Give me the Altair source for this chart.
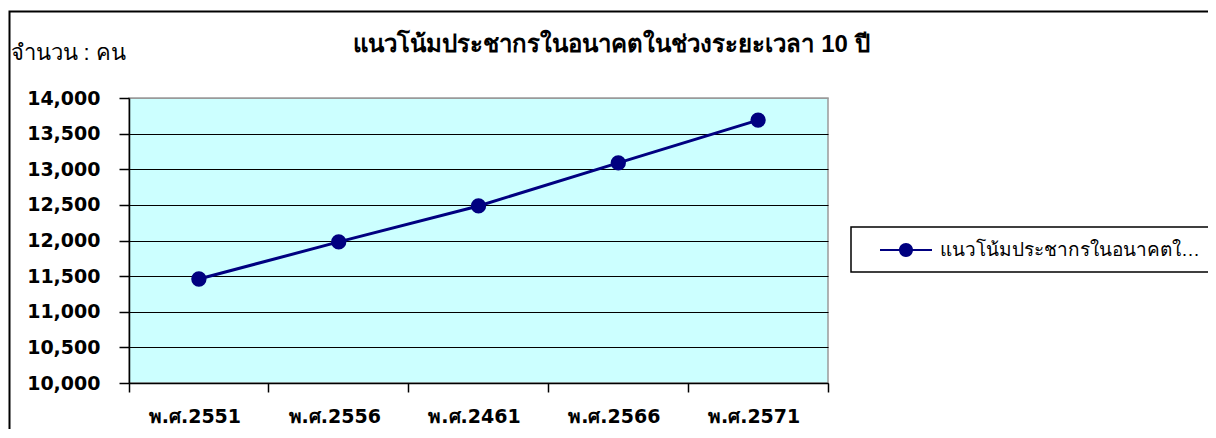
import altair as alt
import pandas as pd

years = ["พ.ศ.2551", "พ.ศ.2556", "พ.ศ.2461", "พ.ศ.2566", "พ.ศ.2571"]
population = [11460, 11980, 12485, 13090, 13690]
series_name = "แนวโน้มประชากรในอนาคตในช่วงระยะเวลา 10 ปี"
title_text = "แนวโน้มประชากรในอนาคตในช่วงระยะเวลา 10 ปี"
y_title = "จำนวน : คน"
y_ticks = [10000, 10500, 11000, 11500, 12000, 12500, 13000, 13500, 14000]

df = pd.DataFrame({"year": years, "pop": population, "series": [series_name] * len(years)})

W, H = 699, 285
FONT = "DejaVu Sans"
TFONT = "Liberation Sans, Arial, sans-serif"
NAVY = "#000080"

x_enc = alt.X(
    "year:N",
    sort=years,
    scale=alt.Scale(type="band", paddingInner=0, paddingOuter=0),
    axis=alt.Axis(
        title=None, labelAngle=0, bandPosition=1, tickExtra=True,
        labelOffset=-4, tickSize=9, tickColor="black", tickWidth=1.5,
        domainColor="black", domainWidth=1.5,
        labelFont=FONT, labelFontSize=19, labelFontWeight="bold",
        labelColor="black", labelPadding=15,
    ),
)
y_enc = alt.Y(
    "pop:Q",
    scale=alt.Scale(domain=[10000, 14000], nice=False, zero=False),
    axis=alt.Axis(
        values=y_ticks, format=",d", title=y_title, titleAngle=0,
        titleX=-119, titleY=-46, titleAlign="left", titleBaseline="middle",
        titleFont=TFONT, titleFontSize=22, titleFontWeight="normal", titleColor="black",
        grid=True,
        gridColor={"condition": {"test": "datum.value >= 14000", "value": "#9a9a9a"}, "value": "black"},
        gridWidth=1.2, tickSize=10, tickColor="black", tickWidth=1.5,
        domainColor="black", domainWidth=1.5,
        labelFont=FONT, labelFontSize=19, labelFontWeight="bold",
        labelColor="black", labelPadding=19,
    ),
)

base = alt.Chart(df)
line = base.mark_line(color=NAVY, strokeWidth=3).encode(x=x_enc, y=y_enc)

sym_path = ("M-2.6,-0.1L2.6,-0.1L2.6,0.1L-2.6,0.1Z"
            "M0.7,0A0.7,0.7 0 1,1 -0.7,0A0.7,0.7 0 1,1 0.7,0Z")
points = base.mark_point(filled=True, size=235, opacity=1).encode(
    x=x_enc, y=y_enc,
    color=alt.Color(
        "series:N",
        scale=alt.Scale(range=[NAVY]),
        legend=alt.Legend(
            title=None, orient="none", legendX=722, legendY=129,
            symbolType=sym_path, symbolSize=400, symbolOffset=32,
            labelFont=TFONT, labelFontSize=19, labelColor="black",
            labelLimit=262, labelOffset=23, padding=12,
            strokeColor="black", fillColor="white",
        ),
    ),
)

frame = alt.Chart(pd.DataFrame({"k": [0]})).mark_rect(
    fillOpacity=0, stroke="black", strokeWidth=2
).encode(
    x=alt.value(-119.5), x2=alt.value(1200), y=alt.value(-86.5), y2=alt.value(400)
)

chart = alt.layer(line, points, frame).properties(
    width=W, height=H,
    background="white",
    autosize=alt.AutoSizeParams(type="none"),
    padding={"left": 121, "top": 90, "right": 380, "bottom": 46},
    title=alt.TitleParams(
        title_text, anchor="middle", frame="group", dx=133, dy=50,
        font=TFONT, fontSize=24, fontWeight="bold", color="black",
    ),
).configure_view(
    fill="#CCFFFF", stroke="#9a9a9a", strokeWidth=1.5
).configure_legend(
    strokeWidth=1.5
)

chart.save("out.html", embed_options={"renderer": "svg", "actions": False})
